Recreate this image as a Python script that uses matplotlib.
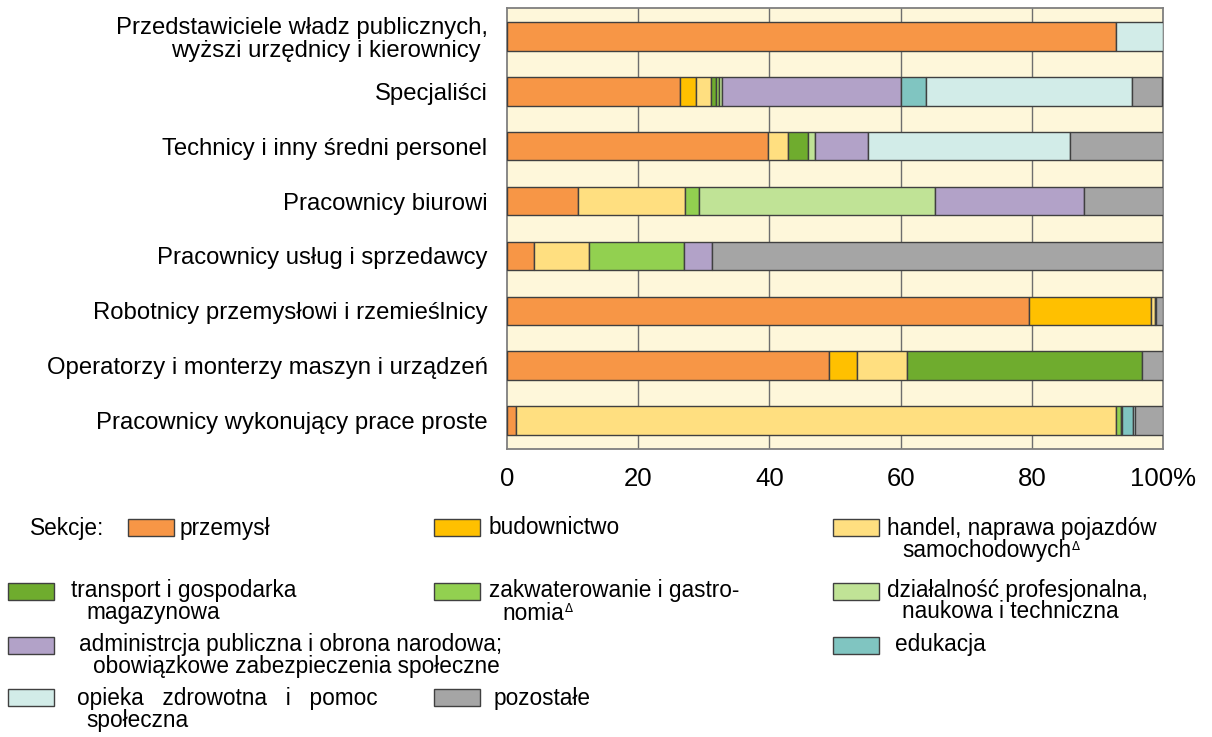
import numpy as np
import matplotlib
matplotlib.use("Agg")
import matplotlib.pyplot as plt
from matplotlib.patches import Rectangle

plt.rcParams['font.family'] = ['Liberation Sans', 'DejaVu Sans']

categories = [
    "Przedstawiciele władz publicznych,\nwyższi urzędnicy i kierownicy ",
    "Specjaliści",
    "Technicy i inny średni personel",
    "Pracownicy biurowi",
    "Pracownicy usług i sprzedawcy",
    "Robotnicy przemysłowi i rzemieślnicy",
    "Operatorzy i monterzy maszyn i urządzeń",
    "Pracownicy wykonujący prace proste",
]

# udział sekcji w % (odczyt z wykresu)
przemysl       = [92.8, 26.4, 39.8, 10.8,  4.1, 79.6, 49.1,  1.4]
budownictwo    = [ 0.0,  2.4,  0.0,  0.0,  0.0, 18.6,  4.3,  0.0]
handel         = [ 0.0,  2.3,  3.0, 16.3,  8.4,  0.6,  7.5, 91.5]
transport      = [ 0.0,  0.8,  3.1,  0.0,  0.0,  0.1, 35.9,  0.0]
zakwaterowanie = [ 0.0,  0.4,  0.0,  2.2, 14.5,  0.0,  0.0,  0.7]
dzialalnosc    = [ 0.0,  0.5,  1.0, 35.9,  0.0,  0.0,  0.0,  0.2]
administracja  = [ 0.0, 27.2,  8.2, 22.8,  4.2,  0.0,  0.0,  0.0]
edukacja       = [ 0.0,  3.9,  0.0,  0.0,  0.0,  0.0,  0.0,  1.6]
opieka         = [ 7.2, 31.3, 30.7,  0.0,  0.0,  0.0,  0.0,  0.3]
pozostale      = [ 0.0,  4.7, 14.2, 12.0, 68.8,  1.1,  3.2,  4.3]

series = [przemysl, budownictwo, handel, transport, zakwaterowanie,
          dzialalnosc, administracja, edukacja, opieka, pozostale]
colors = ["#F79646", "#FFC000", "#FFDF80", "#6FAC2E", "#92D050",
          "#C0E396", "#B2A2C8", "#80C5C1", "#D2ECE8", "#A5A5A5"]

xticks = [0, 20, 40, 60, 80, 100]
xticklabels = ["0", "20", "40", "60", "80", "100%"]

fig = plt.figure(figsize=(12.12, 7.37), dpi=100)
ax = fig.add_axes([507/1212, 1 - 449/737, 656/1212, 441/737])
ax.set_facecolor("#FEF7DA")

y = np.arange(len(categories))
left = np.zeros(len(categories))
for vals, col in zip(series, colors):
    vals = np.array(vals)
    m = vals > 0
    ax.barh(y[m], vals[m], left=left[m], height=0.52, color=col,
            edgecolor="#404040", linewidth=1.0, zorder=3)
    left += vals

for xv in [20, 40, 60, 80]:
    ax.axvline(xv, color="#6E6E6E", linewidth=1.0, zorder=1)

ax.set_xlim(0, 100)
ax.set_ylim(7.52, -0.52)
ax.set_yticks(y)
ax.set_yticklabels(categories, fontsize=17.2, multialignment="right",
                   linespacing=1.05)
ax.set_xticks(xticks)
ax.set_xticklabels(xticklabels, fontsize=18.5)
ax.tick_params(axis="both", length=0)
ax.tick_params(axis="y", pad=14)
ax.tick_params(axis="x", pad=13)
for s in ax.spines.values():
    s.set_color("#7F7F7F")
    s.set_linewidth(1.3)

# legenda rysowana ręcznie
fs = 16.3
W, H = 1212, 737

def patch(x, ytop, col):
    fig.patches.append(Rectangle((x / W, 1 - (ytop + 17) / H), 46 / W, 17 / H,
                                 transform=fig.transFigure, facecolor=col,
                                 edgecolor="#404040", linewidth=1.0))

def txt(x, yc, s):
    return fig.text(x / W, 1 - yc / H, s, fontsize=fs, ha="left", va="center")

sup = []
txt(30, 528, "Sekcje:")
patch(128, 519, colors[0]); txt(180, 528, "przemysł")
patch(434, 519, colors[1]); txt(489, 528, "budownictwo")
patch(833, 519, colors[2]); txt(887, 528, "handel, naprawa pojazdów")
sup.append(txt(902, 551, "samochodowych"))

patch(8, 583, colors[3]); txt(71, 591, "transport i gospodarka")
txt(86, 612, "magazynowa")
patch(434, 583, colors[4]); txt(489, 591, "zakwaterowanie i gastro-")
sup.append(txt(502, 613, "nomia"))
patch(833, 583, colors[5]); txt(887, 591, "działalność profesjonalna,")
txt(902, 612, "naukowa i techniczna")

patch(8, 637, colors[6]); txt(79, 645, "administrcja publiczna i obrona narodowa;")
txt(93, 666, "obowiązkowe zabezpieczenia społeczne")
patch(833, 637, colors[7]); txt(895, 645, "edukacja")

patch(8, 689, colors[8]); txt(77, 698, "opieka   zdrowotna   i   pomoc")
txt(86, 720, "społeczna")
patch(434, 689, colors[9]); txt(494, 698, "pozostałe")

# mały znak Δ przy wybranych pozycjach
fig.canvas.draw()
r = fig.canvas.get_renderer()
for t in sup:
    bb = t.get_window_extent(r)
    fig.text((bb.x1 + 1) / W, (bb.y1 - 1) / H, "Δ", fontsize=8.5,
             ha="left", va="top", family="DejaVu Sans")

fig.savefig("out.png", dpi=100)
